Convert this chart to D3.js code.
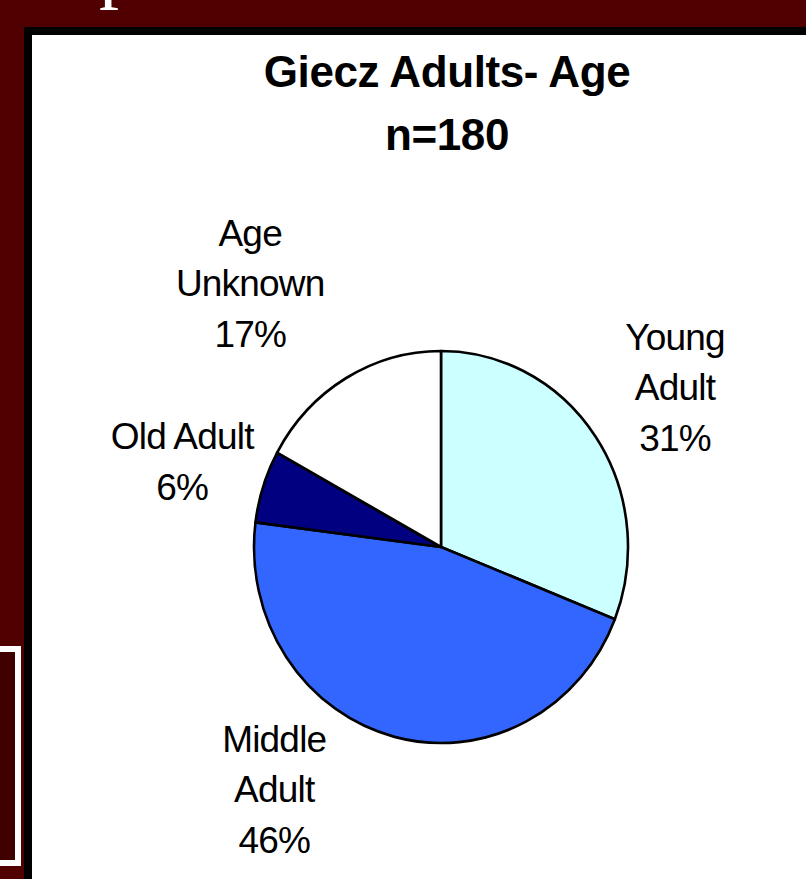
<!DOCTYPE html>
<html>
<head>
<meta charset="utf-8">
<script src="https://cdn.jsdelivr.net/npm/d3@7"></script>
<style>
  html, body { margin: 0; padding: 0; background: #500000; overflow: hidden; }
</style>
</head>
<body>
<div id="chart"></div>
<script>
// Chart data
const categories = ['Young Adult', 'Middle Adult', 'Old Adult', 'Age Unknown'];
const percents = [31, 46, 6, 17];
const labelLines = [['Young', 'Adult'], ['Middle', 'Adult'], ['Old Adult'], ['Age', 'Unknown']];
const sliceColors = ['#CCFFFF', '#3366FF', '#000080', '#FFFFFF'];
const titleLines = ['Giecz Adults- Age', 'n=180'];

const width = 806;
const height = 879;

const svg = d3.select('#chart')
  .append('svg')
  .attr('width', width)
  .attr('height', height);

// slide background
svg.append('rect')
  .attr('width', width)
  .attr('height', height)
  .attr('fill', '#500000');

// cut-off slide heading glyph at the top (only its descender is visible)
svg.append('text')
  .attr('x', 99)
  .attr('y', -7)
  .style('font-family', '"Liberation Serif", "Times New Roman", serif')
  .style('font-size', '80px')
  .attr('fill', '#fff')
  .text('p');

// left box of the slide
svg.append('rect')
  .attr('x', -20)
  .attr('y', 649)
  .attr('width', 38)
  .attr('height', 214)
  .attr('fill', '#400000')
  .attr('stroke', '#fff')
  .attr('stroke-width', 6);

// chart panel with black frame
svg.append('rect')
  .attr('x', 28)
  .attr('y', 31)
  .attr('width', 820)
  .attr('height', 900)
  .attr('fill', '#fff')
  .attr('stroke', '#000')
  .attr('stroke-width', 8);

// Title
svg.selectAll('.title')
  .data(titleLines)
  .enter()
  .append('text')
  .attr('class', 'title')
  .attr('x', 447)
  .attr('y', (d, i) => 87 + i * 63)
  .attr('text-anchor', 'middle')
  .style('font-family', '"Liberation Sans", Arial, sans-serif')
  .style('font-weight', 'bold')
  .style('font-size', '44px')
  .style('letter-spacing', '-0.4px')
  .attr('fill', '#000')
  .text(d => d);

// Pie
const cx = 441;
const cy = 547;
const radius = 187;
const squash = 196 / 187; // the original picture is slightly taller than wide

const data = categories.map((c, i) => ({ label: c, value: percents[i], idx: i }));
const pie = d3.pie().sort(null).value(d => d.value);
const arcs = pie(data);

const arc = d3.arc().innerRadius(0).outerRadius(radius);

const g = svg.append('g')
  .attr('transform', `translate(${cx}, ${cy}) scale(1, ${squash})`);

g.selectAll('path')
  .data(arcs)
  .enter()
  .append('path')
  .attr('d', arc)
  .attr('fill', d => sliceColors[d.data.idx])
  .attr('stroke', '#000')
  .attr('stroke-width', 2.6)
  .attr('stroke-linejoin', 'round');

// Labels: placed on an outer ring, then nudged like Excel's best fit
const labelArc = d3.arc().innerRadius(radius * 1.5).outerRadius(radius * 1.5);
const labelNudge = [[2, 5], [-97, -43], [8, 5], [-48, -11]];
const fontSize = 37;
const lineH = 50.5;

const labels = svg.selectAll('.label')
  .data(arcs)
  .enter()
  .append('text')
  .attr('class', 'label')
  .attr('text-anchor', 'middle')
  .style('font-family', '"Liberation Sans", Arial, sans-serif')
  .style('font-size', fontSize + 'px')
  .style('letter-spacing', '-0.8px')
  .attr('fill', '#000');

labels.each(function(d) {
  const c = labelArc.centroid(d);
  const nudge = labelNudge[d.data.idx];
  const x = cx + c[0] + nudge[0];
  const yc = cy + c[1] * squash + nudge[1];
  const lines = labelLines[d.data.idx].concat([d.data.value + '%']);
  const n = lines.length;
  d3.select(this)
    .selectAll('tspan')
    .data(lines)
    .enter()
    .append('tspan')
    .attr('x', x)
    .attr('y', (t, i) => yc + (i - (n - 1) / 2) * lineH + fontSize * 0.36)
    .text(t => t);
});
</script>
</body>
</html>
